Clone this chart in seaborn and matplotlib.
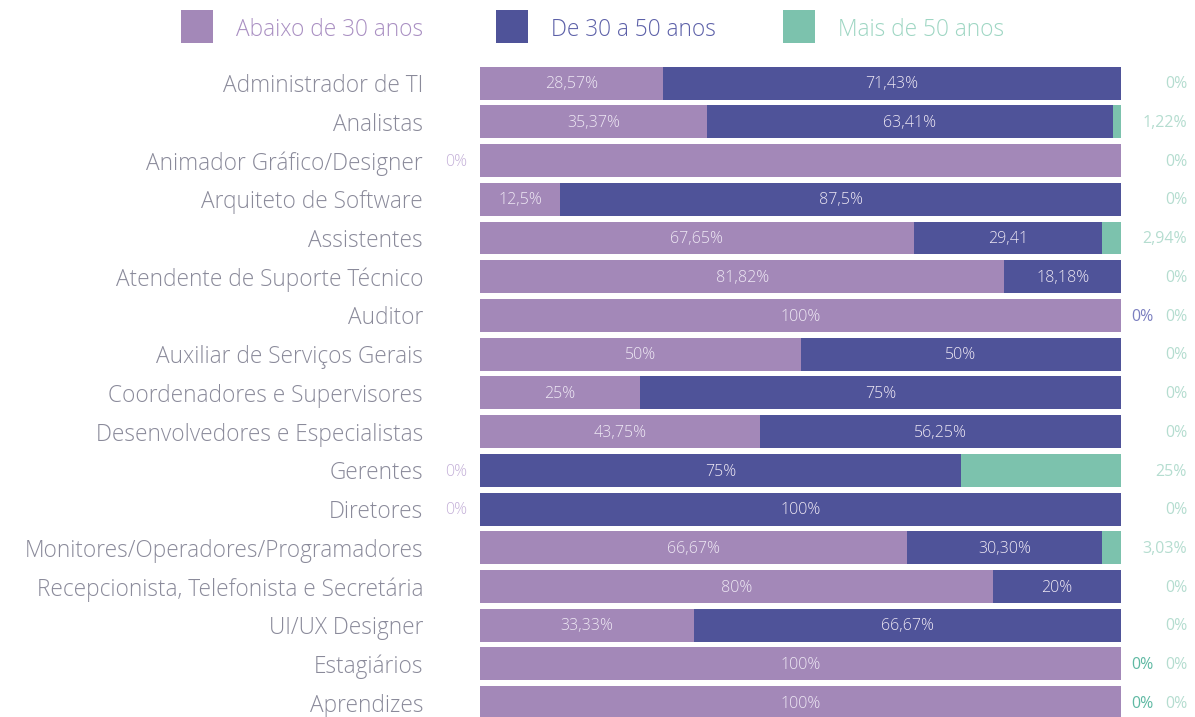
import matplotlib
matplotlib.use('Agg')
import matplotlib.pyplot as plt
from matplotlib.patches import Rectangle
import seaborn as sns
import pandas as pd

categories = ['Administrador de TI', 'Analistas', 'Animador Gráfico/Designer',
              'Arquiteto de Software', 'Assistentes', 'Atendente de Suporte Técnico',
              'Auditor', 'Auxiliar de Serviços Gerais', 'Coordenadores e Supervisores',
              'Desenvolvedores e Especialistas', 'Gerentes', 'Diretores',
              'Monitores/Operadores/Programadores', 'Recepcionista, Telefonista e Secretária',
              'UI/UX Designer', 'Estagiários', 'Aprendizes']
series = ['Abaixo de 30 anos', 'De 30 a 50 anos', 'Mais de 50 anos']

abaixo = [28.57, 35.37, 100, 12.5, 67.65, 81.82, 100, 50, 25, 43.75, 0, 0, 66.67, 80, 33.33, 100, 100]
de30_50 = [71.43, 63.41, 0, 87.5, 29.41, 18.18, 0, 50, 75, 56.25, 75, 100, 30.30, 20, 66.67, 0, 0]
mais50 = [0, 1.22, 0, 0, 2.94, 0, 0, 0, 0, 0, 25, 0, 3.03, 0, 0, 0, 0]

# label text as printed in the original (some rows differ from the values)
abaixo_lbl = ['28,57%', '35,37%', '', '12,5%', '67,65%', '81,82%', '100%', '50%', '25%',
              '43,75%', '', '', '66,67%', '80%', '33,33%', '100%', '100%']
abaixo_out = ['', '', '0%', '', '', '', '', '', '', '', '0%', '0%', '', '', '', '', '']
de30_lbl = ['71,43%', '63,41%', '', '87,5%', '29,41', '18,18%', '', '50%', '75%',
            '56,25%', '75%', '100%', '30,30%', '20%', '66,67%', '', '']
de30_out = ['', '', '', '', '', '', '0%', '', '', '', '', '', '', '', '', '0%', '0%']
mais_lbl = ['0%', '1,22%', '0%', '0%', '2,94%', '0%', '0%', '0%', '0%', '0%', '25%', '0%',
            '3,03%', '0%', '0%', '0%', '0%']

colors = ['#A388B8', '#4F5399', '#7CC2AD']
legend_txt = ['#A98FC2', '#5C60A8', '#9ED6C3']

df = pd.DataFrame({'cat': categories, 'a': abaixo, 'b': de30_50, 'c': mais50})
df['ab'] = df['a'] + df['b']
df['abc'] = df['ab'] + df['c']

sns.set_theme(style='white')
plt.rcParams['font.family'] = ['Open Sans', 'DejaVu Sans']

fig = plt.figure(figsize=(11.95, 7.17), dpi=100)
ax = fig.add_axes([480 / 1195, -0.007, 641 / 1195, 0.918])

# stacked bars drawn as overlapping cumulative totals
for col, c in zip(['abc', 'ab', 'a'], colors[::-1]):
    sns.barplot(data=df, x=col, y='cat', color=c, width=0.85, saturation=1, ax=ax,
                linewidth=0)

ax.set_xlim(0, 100)
ax.set_ylim(16.5, -0.5)
ax.set_xlabel('')
ax.set_ylabel('')
ax.set_xticks([])
sns.despine(ax=ax, left=True, bottom=True)
ax.tick_params(axis='y', length=0, pad=41)
for t in ax.get_yticklabels():
    t.set_fontsize(16.3)
    t.set_color('#8A8A9A')
    t.set_fontweight('light')

inner = '#EEE8F4'
fs = 11.5
for i in range(len(categories)):
    if abaixo_lbl[i]:
        ax.text(df['a'][i] / 2, i + 0.03, abaixo_lbl[i], ha='center', va='center',
                fontsize=fs, color=inner, fontweight='light')
    if de30_lbl[i]:
        ax.text(df['a'][i] + df['b'][i] / 2, i + 0.03, de30_lbl[i], ha='center', va='center',
                fontsize=fs, color=inner, fontweight='light')
    if abaixo_out[i]:
        ax.text(-0.02, i + 0.03, abaixo_out[i], transform=ax.get_yaxis_transform(),
                ha='right', va='center', fontsize=fs, color='#C4B0D8', fontweight='light')
    if de30_out[i]:
        oc = '#7B7FC0' if categories[i] == 'Auditor' else '#5FB9A3'
        ax.text(1.033, i + 0.03, de30_out[i], transform=ax.get_yaxis_transform(),
                ha='center', va='center', fontsize=fs, color=oc)
    ax.text(1.103, i + 0.03, mais_lbl[i], transform=ax.get_yaxis_transform(),
            ha='right', va='center', fontsize=fs, color='#B5DDD0')

# legend
leg_x = [181, 496, 783]
for name, c, tc, x in zip(series, colors, legend_txt, leg_x):
    fig.add_artist(Rectangle((x / 1195, 1 - 43 / 717), 32 / 1195, 33 / 717,
                             transform=fig.transFigure, color=c, lw=0))
    fig.text((x + 55) / 1195, 1 - 29.5 / 717, name, ha='left', va='center',
             fontsize=16.3, color=tc, fontweight='light')

fig.savefig('out.png', dpi=100)
